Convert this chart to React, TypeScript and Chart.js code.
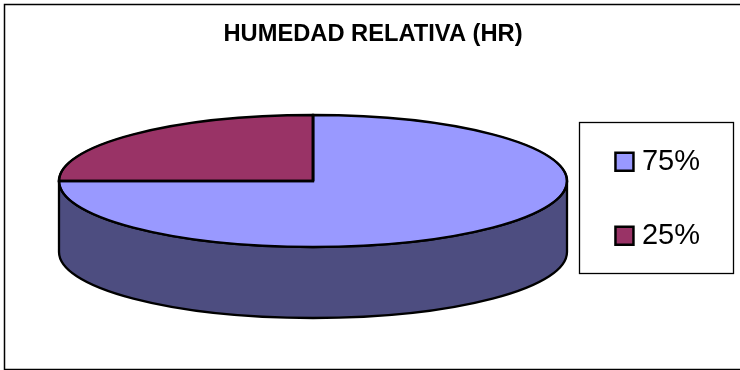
import React, { useEffect, useRef } from "react";
import { Chart, registerables } from "chart.js";

Chart.register(...registerables);

const categories = ["75%", "25%"];
const values = [75, 25];
const topColors = ["#9999FF", "#993366"];
const sideColors = ["#4D4D80", "#4D1A33"];
const titleText = "HUMEDAD RELATIVA (HR)";

const FONT = "'Liberation Sans', Arial, sans-serif";
const pieStyle = { cx: 313, cy: 181, rx: 254, ry: 66, depth: 71 };
const frame = { x: 4.5, y: 4.5, w: 745, h: 365 };
const legendFrame = { x: 579.5, y: 122.5, w: 154, h: 151 };

const pie3d = {
  id: "pie3d",
  beforeDraw(chart: any) {
    const { ctx } = chart;
    ctx.save();
    ctx.fillStyle = "#FFFFFF";
    ctx.fillRect(0, 0, chart.width, chart.height);
    ctx.strokeStyle = "#000000";
    ctx.lineWidth = 1.5;
    ctx.strokeRect(frame.x, frame.y, frame.w, frame.h);
    ctx.lineWidth = 1.3;
    ctx.strokeRect(legendFrame.x, legendFrame.y, legendFrame.w, legendFrame.h);
    ctx.restore();
  },
  beforeDatasetDraw(chart: any) {
    const { ctx } = chart;
    const { cx, cy, rx, ry, depth } = pieStyle;
    const arcs = chart.getDatasetMeta(0).data;
    ctx.save();
    ctx.lineWidth = 2.3;
    ctx.strokeStyle = "#000000";
    arcs.forEach((arc: any, i: number) => {
      const lo = Math.max(arc.startAngle, 0);
      const hi = Math.min(arc.endAngle, Math.PI);
      if (lo >= hi) return;
      ctx.beginPath();
      ctx.ellipse(cx, cy, rx, ry, 0, lo, hi);
      ctx.ellipse(cx, cy + depth, rx, ry, 0, hi, lo, true);
      ctx.closePath();
      ctx.fillStyle = sideColors[i];
      ctx.fill();
      ctx.stroke();
    });
    ctx.restore();
    const first = arcs[0];
    ctx.save();
    ctx.translate(cx, cy);
    ctx.scale(rx / first.outerRadius, ry / first.outerRadius);
    ctx.translate(-first.x, -first.y);
  },
  afterDatasetDraw(chart: any) {
    const { ctx } = chart;
    const { cx, cy, rx, ry } = pieStyle;
    ctx.restore();
    const arcs = chart.getDatasetMeta(0).data;
    ctx.save();
    ctx.lineWidth = 2.3;
    ctx.strokeStyle = "#000000";
    ctx.lineJoin = "miter";
    arcs.forEach((arc: any) => {
      ctx.beginPath();
      ctx.moveTo(cx, cy);
      ctx.ellipse(cx, cy, rx, ry, 0, arc.startAngle, arc.endAngle);
      ctx.closePath();
      ctx.stroke();
    });
    ctx.restore();
  },
};

export default function App() {
  const ref = useRef<HTMLCanvasElement>(null);
  useEffect(() => {
    const chart = new Chart(ref.current!, {
      type: "pie",
      data: {
        labels: categories,
        datasets: [
          {
            data: values,
            backgroundColor: topColors,
            borderColor: "#000000",
            borderWidth: 2.5,
            radius: pieStyle.rx,
          },
        ],
      },
      options: {
        responsive: false,
        animation: false,
        layout: { padding: { left: 36, right: 30, top: 20, bottom: 25 } },
        plugins: {
          tooltip: { enabled: false },
          title: {
            display: true,
            text: titleText,
            color: "#000000",
            font: { family: FONT, size: 23.7, weight: "bold" },
            padding: { top: 0, bottom: 4 },
          },
          legend: {
            position: "right",
            fullSize: false,
            labels: {
              color: "#000000",
              font: { family: FONT, size: 29 },
              usePointStyle: true,
              pointStyle: "rect",
              boxWidth: 6,
              boxHeight: 18,
              padding: 45,
            },
          },
        },
      },
      plugins: [pie3d],
    } as any);
    return () => chart.destroy();
  }, []);
  return (
    <canvas
      ref={ref}
      width={740}
      height={370}
      style={{ position: "absolute", left: 0, top: 0, display: "block" }}
    />
  );
}
